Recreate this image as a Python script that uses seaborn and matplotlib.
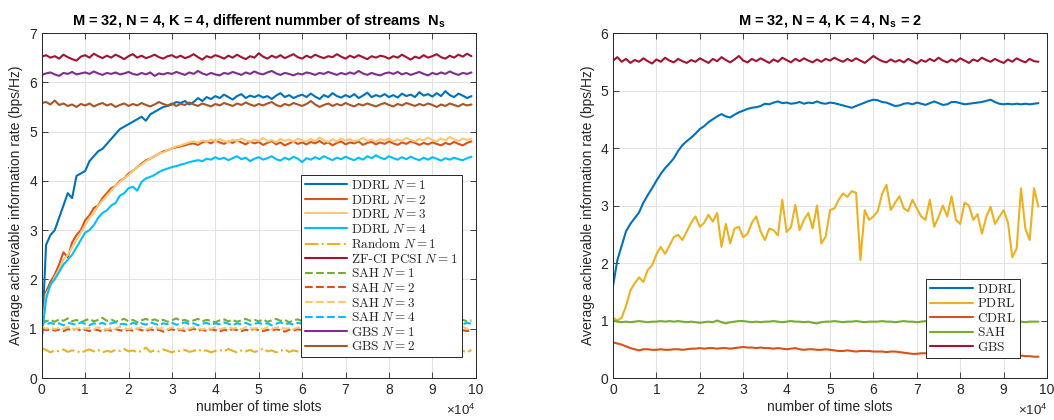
import matplotlib
matplotlib.use("Agg")
import matplotlib.pyplot as plt
import seaborn as sns

# ---- data (time slot grid: every 1000 slots) ----
SLOTS_LEFT = list(range(0, 100000, 1000))
SLOTS_RIGHT = list(range(0, 99000, 1000))

DDRL_N1 = [0.75, 2.7, 2.9, 3.0, 3.25, 3.5, 3.75, 3.65, 4.1, 4.15,
           4.2, 4.4, 4.5, 4.6, 4.65, 4.75, 4.85, 4.95, 5.05, 5.1,
           5.15, 5.2, 5.25, 5.3, 5.22, 5.35, 5.4, 5.45, 5.5, 5.52,
           5.55, 5.6, 5.58, 5.62, 5.55, 5.6, 5.68, 5.62, 5.7, 5.66,
           5.72, 5.68, 5.75, 5.7, 5.65, 5.72, 5.76, 5.68, 5.73, 5.7,
           5.74, 5.69, 5.72, 5.66, 5.73, 5.78, 5.7, 5.74, 5.68, 5.72,
           5.75, 5.7, 5.77, 5.71, 5.66, 5.74, 5.7, 5.78, 5.72, 5.69,
           5.74, 5.7, 5.76, 5.68, 5.73, 5.79, 5.7, 5.74, 5.71, 5.76,
           5.7, 5.74, 5.69, 5.77, 5.72, 5.75, 5.7, 5.8, 5.73, 5.76,
           5.71, 5.78, 5.72, 5.82, 5.74, 5.7, 5.77, 5.73, 5.68, 5.72]
DDRL_N2 = [0.8, 1.75, 1.95, 2.1, 2.3, 2.55, 2.45, 2.75, 2.9, 3.0,
           3.2, 3.3, 3.45, 3.5, 3.65, 3.75, 3.85, 3.9, 4.0, 4.05,
           4.15, 4.2, 4.28, 4.35, 4.42, 4.45, 4.5, 4.55, 4.6, 4.62,
           4.66, 4.68, 4.7, 4.72, 4.75, 4.76, 4.73, 4.78, 4.8, 4.76,
           4.82, 4.78, 4.75, 4.8, 4.77, 4.82, 4.78, 4.74, 4.8, 4.76,
           4.79, 4.73, 4.77, 4.81, 4.74, 4.78, 4.72, 4.76, 4.8, 4.75,
           4.78, 4.74, 4.79, 4.76, 4.81, 4.75, 4.78, 4.72, 4.77, 4.8,
           4.74, 4.78, 4.76, 4.8, 4.73, 4.77, 4.79, 4.74, 4.78, 4.75,
           4.8, 4.76, 4.73, 4.78, 4.75, 4.8, 4.77, 4.73, 4.77, 4.74,
           4.78, 4.75, 4.72, 4.77, 4.74, 4.79, 4.75, 4.72, 4.77, 4.8]
DDRL_N3 = [0.9, 1.7, 1.85, 2.05, 2.2, 2.4, 2.5, 2.65, 2.8, 2.95,
           3.1, 3.25, 3.35, 3.5, 3.6, 3.7, 3.8, 3.9, 3.98, 4.05,
           4.12, 4.2, 4.28, 4.33, 4.4, 4.45, 4.5, 4.55, 4.58, 4.62,
           4.66, 4.7, 4.72, 4.75, 4.78, 4.8, 4.77, 4.82, 4.79, 4.84,
           4.8, 4.85, 4.81, 4.78, 4.84, 4.8, 4.86, 4.82, 4.79, 4.84,
           4.81, 4.87, 4.8, 4.83, 4.78, 4.85, 4.81, 4.84, 4.79, 4.86,
           4.82, 4.8, 4.85, 4.81, 4.88, 4.82, 4.79, 4.84, 4.8, 4.86,
           4.82, 4.85, 4.8, 4.83, 4.87, 4.81, 4.84, 4.79, 4.85, 4.82,
           4.86, 4.8, 4.84, 4.81, 4.87, 4.83, 4.8, 4.85, 4.82, 4.88,
           4.83, 4.8, 4.86, 4.82, 4.89, 4.84, 4.81, 4.86, 4.83, 4.85]
DDRL_N4 = [0.85, 1.6, 1.9, 2.0, 2.15, 2.3, 2.4, 2.5, 2.65, 2.8,
           2.95, 3.0, 3.1, 3.25, 3.35, 3.4, 3.5, 3.55, 3.7, 3.75,
           3.85, 3.88, 3.8, 3.98, 4.05, 4.08, 4.12, 4.18, 4.22, 4.25,
           4.28, 4.3, 4.33, 4.35, 4.38, 4.4, 4.42, 4.4, 4.45, 4.43,
           4.48, 4.44, 4.47, 4.42, 4.46, 4.5, 4.44, 4.47, 4.4, 4.45,
           4.48, 4.43, 4.46, 4.5, 4.44, 4.41, 4.47, 4.43, 4.49, 4.45,
           4.38, 4.46, 4.43, 4.48, 4.44, 4.5, 4.46, 4.42, 4.47, 4.44,
           4.49, 4.45, 4.42, 4.47, 4.43, 4.5, 4.46, 4.52, 4.47, 4.44,
           4.5, 4.46, 4.43, 4.48, 4.44, 4.49, 4.45, 4.42, 4.47, 4.43,
           4.48, 4.45, 4.41, 4.46, 4.43, 4.47, 4.44, 4.42, 4.46, 4.49]
RANDOM_N1 = [0.6, 0.57, 0.52, 0.56, 0.54, 0.58, 0.53, 0.56, 0.55, 0.51,
             0.55, 0.58, 0.54, 0.57, 0.52, 0.55, 0.53, 0.57, 0.55, 0.59,
             0.54, 0.56, 0.52, 0.55, 0.62, 0.53, 0.56, 0.54, 0.58, 0.55,
             0.52, 0.56, 0.54, 0.57, 0.53, 0.55, 0.58, 0.54, 0.56, 0.52,
             0.55, 0.57, 0.54, 0.59, 0.55, 0.52, 0.56, 0.54, 0.57, 0.53,
             0.55, 0.6, 0.54, 0.56, 0.52, 0.55, 0.58, 0.53, 0.56, 0.54,
             0.57, 0.52, 0.55, 0.6, 0.54, 0.56, 0.53, 0.57, 0.55, 0.52,
             0.56, 0.54, 0.58, 0.53, 0.55, 0.57, 0.52, 0.56, 0.54, 0.59,
             0.55, 0.53, 0.57, 0.54, 0.56, 0.52, 0.55, 0.58, 0.54, 0.56,
             0.53, 0.57, 0.55, 0.61, 0.54, 0.56, 0.62, 0.55, 0.52, 0.57]
ZFCI_N1 = [6.52, 6.55, 6.5, 6.53, 6.48, 6.56, 6.51, 6.47, 6.44, 6.52,
           6.55, 6.5, 6.58, 6.53, 6.49, 6.54, 6.5, 6.56, 6.52, 6.47,
           6.53, 6.57, 6.5, 6.54, 6.49, 6.52, 6.56, 6.51, 6.48, 6.53,
           6.55, 6.5, 6.54, 6.49, 6.52, 6.57, 6.51, 6.46, 6.53, 6.5,
           6.55, 6.52, 6.48, 6.54, 6.5, 6.56, 6.51, 6.47, 6.53, 6.5,
           6.59, 6.52, 6.48, 6.54, 6.5, 6.55, 6.49, 6.53, 6.57, 6.51,
           6.48, 6.54, 6.5, 6.56, 6.52, 6.49, 6.53, 6.51, 6.57, 6.52,
           6.48, 6.54, 6.5, 6.55, 6.51, 6.47, 6.53, 6.5, 6.54, 6.52,
           6.48, 6.53, 6.5, 6.56, 6.51, 6.46, 6.52, 6.49, 6.55, 6.5,
           6.53, 6.57, 6.51, 6.48, 6.54, 6.5, 6.56, 6.52, 6.58, 6.53]
SAH_N1 = [1.2, 1.15, 1.18, 1.14, 1.19, 1.16, 1.21, 1.15, 1.18, 1.13,
          1.17, 1.2, 1.15, 1.18, 1.22, 1.16, 1.19, 1.14, 1.17, 1.2,
          1.15, 1.18, 1.13, 1.17, 1.2, 1.16, 1.19, 1.15, 1.18, 1.14,
          1.17, 1.21, 1.16, 1.18, 1.14, 1.17, 1.2, 1.15, 1.18, 1.16,
          1.13, 1.17, 1.19, 1.15, 1.18, 1.14, 1.17, 1.2, 1.16, 1.18,
          1.15, 1.19, 1.14, 1.17, 1.2, 1.16, 1.18, 1.13, 1.17, 1.19,
          1.15, 1.18, 1.14, 1.17, 1.21, 1.16, 1.18, 1.15, 1.19, 1.14,
          1.17, 1.2, 1.16, 1.18, 1.14, 1.17, 1.19, 1.15, 1.18, 1.21,
          1.16, 1.18, 1.14, 1.17, 1.2, 1.15, 1.18, 1.16, 1.13, 1.17,
          1.19, 1.15, 1.18, 1.14, 1.17, 1.2, 1.16, 1.18, 1.15, 1.17]
SAH_N2 = [1.0, 0.97, 0.99, 0.96, 0.98, 0.95, 0.99, 0.97, 1.0, 0.96,
          0.98, 0.95, 0.99, 0.97, 0.94, 0.98, 0.96, 0.99, 0.97, 0.95,
          0.98, 0.96, 1.0, 0.97, 0.95, 0.99, 0.96, 0.98, 0.94, 0.97,
          0.99, 0.96, 0.98, 0.95, 0.97, 1.0, 0.96, 0.98, 0.95, 0.99,
          0.97, 0.94, 0.98, 0.96, 0.99, 0.97, 0.95, 0.98, 0.96, 1.0,
          0.97, 0.95, 0.98, 0.96, 0.99, 0.97, 0.94, 0.98, 0.96, 0.99,
          0.97, 0.95, 0.98, 0.96, 1.0, 0.97, 0.95, 0.99, 0.96, 0.98,
          0.94, 0.97, 0.99, 0.96, 0.98, 0.95, 0.97, 1.0, 0.96, 0.98,
          0.95, 0.99, 0.97, 0.94, 0.98, 0.96, 0.99, 0.97, 0.95, 0.98,
          0.96, 1.0, 0.97, 0.95, 0.98, 0.96, 0.99, 0.97, 0.95, 0.98]
SAH_N3 = [1.05, 1.0, 1.03, 0.99, 1.02, 1.0, 1.04, 1.01, 0.99, 1.03,
          1.0, 1.02, 0.99, 1.03, 1.01, 0.98, 1.02, 1.0, 1.04, 1.01,
          0.99, 1.02, 1.0, 1.03, 0.99, 1.01, 1.04, 1.0, 1.02, 0.99,
          1.03, 1.01, 0.99, 1.02, 1.0, 1.03, 1.01, 0.98, 1.02, 1.0,
          1.03, 0.99, 1.01, 1.04, 1.0, 1.02, 0.99, 1.03, 1.01, 1.0,
          1.02, 0.99, 1.03, 1.0, 1.02, 1.04, 1.0, 1.01, 0.99, 1.03,
          1.0, 1.02, 0.99, 1.03, 1.01, 1.0, 1.04, 1.01, 0.99, 1.02,
          1.0, 1.03, 0.99, 1.01, 1.03, 1.0, 1.02, 0.99, 1.03, 1.01,
          1.0, 1.02, 1.04, 1.0, 1.01, 0.99, 1.03, 1.0, 1.02, 0.99,
          1.03, 1.01, 1.0, 1.02, 0.99, 1.03, 1.01, 1.04, 1.0, 1.02]
SAH_N4 = [1.25, 1.08, 1.12, 1.09, 1.11, 1.07, 1.12, 1.1, 1.08, 1.13,
          1.1, 1.07, 1.11, 1.09, 1.12, 1.08, 1.11, 1.13, 1.09, 1.1,
          1.07, 1.12, 1.09, 1.11, 1.08, 1.13, 1.1, 1.07, 1.11, 1.09,
          1.12, 1.08, 1.1, 1.13, 1.09, 1.11, 1.07, 1.1, 1.12, 1.08,
          1.11, 1.09, 1.13, 1.1, 1.07, 1.11, 1.09, 1.12, 1.08, 1.1,
          1.12, 1.09, 1.11, 1.07, 1.1, 1.13, 1.09, 1.11, 1.08, 1.12,
          1.1, 1.07, 1.11, 1.09, 1.12, 1.08, 1.1, 1.13, 1.09, 1.11,
          1.08, 1.12, 1.1, 1.07, 1.11, 1.09, 1.13, 1.1, 1.08, 1.11,
          1.09, 1.12, 1.08, 1.1, 1.13, 1.09, 1.11, 1.07, 1.1, 1.12,
          1.09, 1.11, 1.08, 1.12, 1.1, 1.07, 1.11, 1.09, 1.12, 1.1]
GBS_N1 = [6.15, 6.18, 6.2, 6.16, 6.13, 6.19, 6.17, 6.21, 6.16, 6.18,
          6.2, 6.17, 6.22, 6.18, 6.15, 6.19, 6.17, 6.2, 6.16, 6.18,
          6.21, 6.17, 6.15, 6.19, 6.16, 6.2, 6.13, 6.18, 6.16, 6.19,
          6.17, 6.21, 6.18, 6.15, 6.2, 6.17, 6.23, 6.18, 6.15, 6.19,
          6.16, 6.14, 6.19, 6.17, 6.21, 6.18, 6.15, 6.2, 6.17, 6.22,
          6.18, 6.16, 6.2, 6.23, 6.18, 6.15, 6.19, 6.17, 6.14, 6.18,
          6.16, 6.2, 6.18, 6.15, 6.19, 6.17, 6.21, 6.18, 6.15, 6.19,
          6.16, 6.2, 6.17, 6.23, 6.18, 6.15, 6.19, 6.16, 6.14, 6.18,
          6.2, 6.17, 6.21, 6.16, 6.19, 6.15, 6.18, 6.21, 6.17, 6.14,
          6.19, 6.16, 6.2, 6.17, 6.22, 6.18, 6.15, 6.19, 6.17, 6.2]
GBS_N2 = [5.58, 5.6, 5.55, 5.63, 5.54, 5.57, 5.52, 5.55, 5.5, 5.56,
          5.53, 5.57, 5.51, 5.55, 5.58, 5.53, 5.56, 5.5, 5.54, 5.57,
          5.52, 5.56, 5.53, 5.58, 5.54, 5.51, 5.55, 5.6, 5.56, 5.53,
          5.57, 5.52, 5.56, 5.54, 5.59, 5.55, 5.52, 5.57, 5.54, 5.51,
          5.56, 5.53, 5.58, 5.55, 5.52, 5.57, 5.54, 5.59, 5.55, 5.52,
          5.56, 5.53, 5.57, 5.6, 5.54, 5.51, 5.56, 5.53, 5.58, 5.55,
          5.52, 5.56, 5.62, 5.55, 5.5, 5.54, 5.57, 5.52, 5.56, 5.53,
          5.58, 5.54, 5.51, 5.56, 5.53, 5.57, 5.54, 5.51, 5.55, 5.58,
          5.54, 5.51, 5.56, 5.53, 5.58, 5.55, 5.52, 5.56, 5.53, 5.57,
          5.54, 5.5, 5.55, 5.52, 5.57, 5.54, 5.51, 5.56, 5.53, 5.55]

DDRL_R = [1.6, 2.05, 2.3, 2.55, 2.68, 2.78, 2.88, 3.05, 3.18, 3.3,
          3.43, 3.55, 3.65, 3.73, 3.82, 3.95, 4.05, 4.12, 4.18, 4.25,
          4.33, 4.38, 4.45, 4.5, 4.55, 4.59, 4.55, 4.53, 4.58, 4.62,
          4.65, 4.68, 4.7, 4.71, 4.73, 4.77, 4.76, 4.79, 4.81, 4.78,
          4.79, 4.77, 4.78, 4.8, 4.77, 4.79, 4.78, 4.81, 4.78, 4.77,
          4.79, 4.78, 4.76, 4.74, 4.72, 4.7, 4.73, 4.76, 4.79, 4.82,
          4.84, 4.83, 4.8, 4.79, 4.76, 4.73, 4.74, 4.77, 4.78, 4.76,
          4.79, 4.77, 4.75, 4.78, 4.81, 4.78, 4.75, 4.76, 4.8, 4.8,
          4.78, 4.76, 4.77, 4.78, 4.79, 4.8, 4.82, 4.84, 4.8, 4.77,
          4.76, 4.77, 4.76, 4.77, 4.76, 4.77, 4.76, 4.77, 4.78]
PDRL_R = [1.05, 1.0, 1.05, 1.25, 1.52, 1.65, 1.75, 1.67, 1.88, 1.96,
          2.15, 2.28, 2.16, 2.3, 2.45, 2.49, 2.4, 2.55, 2.7, 2.81,
          2.63, 2.7, 2.84, 2.72, 2.87, 2.28, 2.68, 2.34, 2.6, 2.63,
          2.45, 2.51, 2.7, 2.81, 2.55, 2.4, 2.6, 2.57, 2.48, 3.1,
          2.54, 2.62, 3.01, 2.57, 2.75, 2.87, 2.6, 3.0, 2.34, 2.46,
          2.92, 2.95, 3.1, 3.21, 3.15, 3.25, 3.22, 2.05, 2.92, 2.75,
          2.81, 2.9, 3.2, 3.36, 2.92, 3.05, 3.16, 2.95, 2.9, 3.1,
          2.95, 2.81, 2.75, 3.1, 2.63, 2.8, 3.0, 2.81, 3.16, 2.75,
          2.68, 3.05, 3.0, 2.75, 2.85, 2.51, 2.8, 2.98, 2.68, 2.8,
          2.92, 2.7, 2.1, 2.25, 3.3, 2.6, 2.4, 3.3, 2.98]
CDRL_R = [0.62, 0.6, 0.58, 0.55, 0.52, 0.5, 0.48, 0.5, 0.5, 0.49,
          0.49, 0.5, 0.49, 0.49, 0.5, 0.5, 0.49, 0.5, 0.51, 0.51,
          0.52, 0.51, 0.52, 0.52, 0.51, 0.52, 0.52, 0.51, 0.52, 0.53,
          0.54, 0.53, 0.53, 0.52, 0.53, 0.52, 0.52, 0.51, 0.52, 0.51,
          0.5, 0.51, 0.52, 0.5, 0.49, 0.5, 0.5, 0.49, 0.49, 0.5,
          0.49, 0.48, 0.47, 0.47, 0.48, 0.47, 0.46, 0.47, 0.47, 0.47,
          0.46, 0.46, 0.46, 0.45, 0.46, 0.46, 0.45, 0.44, 0.43, 0.42,
          0.42, 0.43, 0.43, 0.43, 0.44, 0.43, 0.43, 0.43, 0.42, 0.43,
          0.43, 0.42, 0.42, 0.43, 0.42, 0.41, 0.41, 0.41, 0.4, 0.41,
          0.4, 0.4, 0.39, 0.39, 0.39, 0.38, 0.38, 0.37, 0.37]
SAH_R = [1.0, 0.98, 0.97, 0.98, 0.97, 0.98, 0.99, 0.98, 0.97, 0.98,
         0.98, 0.99, 0.98, 0.99, 0.98, 0.99, 0.98, 0.97, 0.98, 0.97,
         0.96, 0.97, 0.98, 0.97, 1.0, 0.97, 0.95, 0.97, 0.98, 0.99,
         0.99, 0.98, 0.97, 0.98, 0.97, 0.98, 0.98, 0.99, 0.98, 0.97,
         0.98, 0.99, 0.98, 0.98, 0.97, 0.98, 0.96, 0.95, 0.97, 0.98,
         0.98, 0.99, 0.98, 0.97, 0.98, 0.98, 0.99, 0.98, 0.97, 0.98,
         0.98, 0.98, 0.99, 0.98, 0.98, 0.97, 0.98, 0.99, 0.98, 0.98,
         0.97, 0.98, 0.99, 0.96, 0.97, 0.98, 0.99, 0.98, 0.98, 0.97,
         0.98, 0.98, 0.99, 0.98, 0.97, 0.98, 0.98, 0.99, 0.98, 0.97,
         0.98, 0.98, 0.97, 0.98, 0.98, 0.97, 0.98, 0.98, 0.98]
GBS_R = [5.52, 5.58, 5.5, 5.55, 5.48, 5.53, 5.5, 5.56, 5.51, 5.47,
         5.54, 5.5, 5.57, 5.52, 5.49, 5.55, 5.51, 5.48, 5.53, 5.5,
         5.56, 5.52, 5.48, 5.55, 5.51, 5.58, 5.53, 5.49, 5.54, 5.6,
         5.52, 5.49, 5.55, 5.51, 5.56, 5.52, 5.48, 5.54, 5.5, 5.57,
         5.53, 5.49, 5.55, 5.51, 5.56, 5.52, 5.49, 5.54, 5.5, 5.55,
         5.52, 5.57, 5.53, 5.5, 5.55, 5.51, 5.56, 5.52, 5.48, 5.54,
         5.6, 5.55, 5.51, 5.49, 5.54, 5.5, 5.53, 5.49, 5.55, 5.51,
         5.47, 5.53, 5.5, 5.55, 5.51, 5.57, 5.52, 5.49, 5.54, 5.5,
         5.56, 5.52, 5.48, 5.54, 5.51, 5.57, 5.53, 5.5, 5.55, 5.51,
         5.48, 5.54, 5.5, 5.56, 5.52, 5.49, 5.55, 5.51, 5.5]

# (label, values, colour, linestyle)
LEFT_SERIES = [
    (r'$\mathrm{DDRL}\ N = 1$', DDRL_N1, '#0072BD', '-'),
    (r'$\mathrm{DDRL}\ N = 2$', DDRL_N2, '#D95319', '-'),
    (r'$\mathrm{DDRL}\ N = 3$', DDRL_N3, '#FDC670', '-'),
    (r'$\mathrm{DDRL}\ N = 4$', DDRL_N4, '#00BFFF', '-'),
    (r'$\mathrm{Random}\ N = 1$', RANDOM_N1, '#EDB120', '-.'),
    (r'$\mathrm{ZF}$-$\mathrm{CI\ PCSI}\ N = 1$', ZFCI_N1, '#A2142F', '-'),
    (r'$\mathrm{SAH}\ N = 1$', SAH_N1, '#77AC30', '--'),
    (r'$\mathrm{SAH}\ N = 2$', SAH_N2, '#D95319', '--'),
    (r'$\mathrm{SAH}\ N = 3$', SAH_N3, '#FDC670', '--'),
    (r'$\mathrm{SAH}\ N = 4$', SAH_N4, '#00BFFF', '--'),
    (r'$\mathrm{GBS}\ N = 1$', GBS_N1, '#7E2F8E', '-'),
    (r'$\mathrm{GBS}\ N = 2$', GBS_N2, '#A65628', '-'),
]
RIGHT_SERIES = [
    (r'$\mathrm{DDRL}$', DDRL_R, '#0072BD', '-'),
    (r'$\mathrm{PDRL}$', PDRL_R, '#EDB120', '-'),
    (r'$\mathrm{CDRL}$', CDRL_R, '#D95319', '-'),
    (r'$\mathrm{SAH}$', SAH_R, '#77AC30', '-'),
    (r'$\mathrm{GBS}$', GBS_R, '#A2142F', '-'),
]

sns.set_style('ticks')
plt.rcParams['font.family'] = ['Liberation Sans', 'DejaVu Sans']
plt.rcParams['mathtext.fontset'] = 'cm'
INK = '#262626'


def style_axes(ax, ymax, title):
    ax.set_xlim(0, 100000)
    ax.set_ylim(0, ymax)
    ax.set_xticks(range(0, 100001, 10000))
    ax.set_xticklabels([str(i) for i in range(11)])
    ax.set_yticks(range(0, ymax + 1))
    ax.tick_params(direction='in', top=True, right=True, labelsize=10,
                   colors=INK, length=4, width=0.6)
    ax.grid(True, color='#e3e3e3', linewidth=0.8)
    ax.set_axisbelow(True)
    for sp in ax.spines.values():
        sp.set_visible(True)
        sp.set_color(INK)
        sp.set_linewidth(0.7)
    ax.set_xlabel('number of time slots', fontsize=10, color=INK, labelpad=2)
    ax.set_title(title, fontsize=10.5, fontweight='bold', color='black', pad=6)
    ax.text(1.0, -0.108, r'$\mathregular{\times10^{4}}$', transform=ax.transAxes,
            ha='right', va='baseline', fontsize=9.5, color=INK)


fig = plt.figure(figsize=(10.54, 4.2), dpi=100)
ax1 = fig.add_axes([0.0396, 0.1, 0.4118, 0.8214])
ax2 = fig.add_axes([0.5816, 0.1, 0.4118, 0.8214])

for label, vals, col, ls in LEFT_SERIES:
    sns.lineplot(x=SLOTS_LEFT, y=vals, ax=ax1, color=col, linestyle=ls,
                 linewidth=1.5, label=label)
for label, vals, col, ls in RIGHT_SERIES:
    sns.lineplot(x=SLOTS_RIGHT, y=vals, ax=ax2, color=col, linestyle=ls,
                 linewidth=1.5, label=label)

style_axes(ax1, 7, r'M = 32, N = 4, K = 4, different nummber of streams  N$_\mathregular{s}$')
style_axes(ax2, 6, r'M = 32, N = 4, K = 4, N$_\mathregular{s}$ = 2')

ylab = 'Average achievable information rate (bps/Hz)'
ax1.set_ylabel(ylab, fontsize=10, color=INK, labelpad=4)
ax2.set_ylabel(ylab, fontsize=10, color=INK, labelpad=4)

for ax, anchor in ((ax1, (0.968, 0.06)), (ax2, (0.938, 0.058))):
    leg = ax.legend(loc='lower right', bbox_to_anchor=anchor, fontsize=9.5,
                    frameon=True, fancybox=False, framealpha=1,
                    edgecolor=INK, handlelength=3.2, handletextpad=0.3,
                    labelspacing=0.12, borderpad=0.3, borderaxespad=0)
    leg.get_frame().set_linewidth(0.7)

fig.savefig('out.png', dpi=100)
